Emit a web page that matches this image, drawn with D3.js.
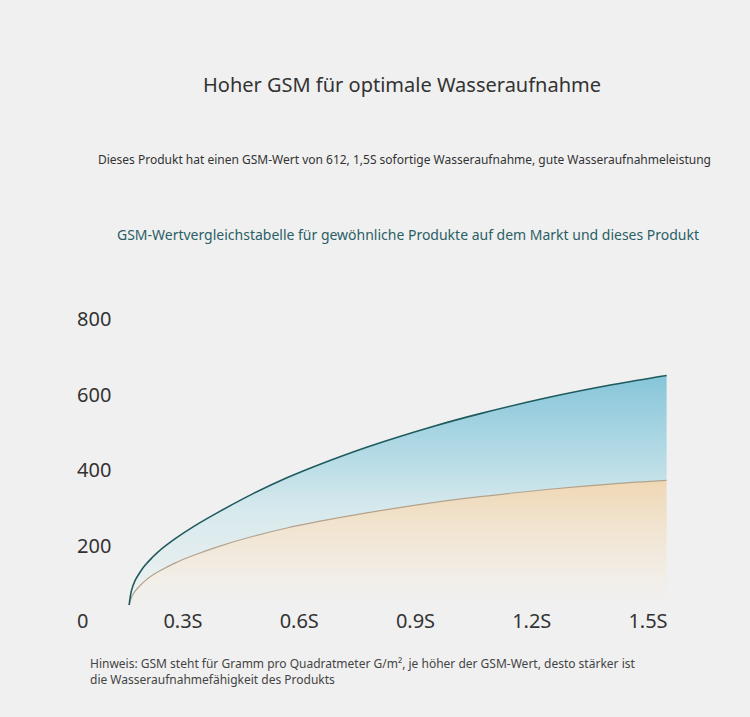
<!DOCTYPE html>
<html><head><meta charset="utf-8">
<script src="https://cdn.jsdelivr.net/npm/d3@7"></script>
<style>
html,body{margin:0;padding:0;background:#f0f0f0;}
svg{display:block;font-family:"Noto Sans",sans-serif;}
</style></head>
<body>
<svg id="chart" width="750" height="717"></svg>
<script>
// ---- data ----
const times   = [0.161, 0.167, 0.176, 0.19, 0.202, 0.22, 0.236, 0.279, 0.326, 0.395, 0.481, 0.568, 0.654, 0.774, 0.945, 1.067, 1.239, 1.41, 1.548];
const product = [0, 38, 64, 88, 105, 125, 141, 175, 207, 248, 295, 337, 373, 418, 473, 507, 549, 584, 608];
const market  = [0, 20, 36, 52, 64, 78, 88, 111, 131, 156, 182, 204, 222, 244, 271, 287, 306, 321, 330];
const yTicks  = [0, 200, 400, 600, 800];
const xTicks  = [0.3, 0.6, 0.9, 1.2, 1.5];
const xTickLabels = ["0.3S", "0.6S", "0.9S", "1.2S", "1.5S"];

const title = "Hoher GSM für optimale Wasseraufnahme";
const subtitle = "Dieses Produkt hat einen GSM-Wert von 612, 1,5S sofortige Wasseraufnahme, gute Wasseraufnahmeleistung";
const chartTitle = "GSM-Wertvergleichstabelle für gewöhnliche Produkte auf dem Markt und dieses Produkt";

const svg = d3.select("#chart");
svg.append("rect").attr("width",750).attr("height",717).attr("fill","#f0f0f0");

const x = d3.scaleLinear().domain([0, 1.5]).range([66.75, 648]);
const y = d3.scaleLinear().domain([0, 800]).range([605, 303]);

const rows = times.map((t,i)=>({t, p: product[i], m: market[i]}));

// gradients
const defs = svg.append("defs");
const gb = defs.append("linearGradient").attr("id","gBlue")
  .attr("gradientUnits","userSpaceOnUse").attr("x1",0).attr("x2",0).attr("y1",y(610)).attr("y2",y(20));
[[0,"#86c5d9"],[0.35,"#b3dae5"],[0.6,"#d6e9ed"],[1,"#eef1f0"]].forEach(([o,c])=>gb.append("stop").attr("offset",o).attr("stop-color",c));
const gs = defs.append("linearGradient").attr("id","gSand")
  .attr("gradientUnits","userSpaceOnUse").attr("x1",0).attr("x2",0).attr("y1",y(335)).attr("y2",y(0));
[[0,"#efd7b3"],[0.45,"#f1e6d5"],[0.8,"#f2eee8"],[1,"#f0f0f0"]].forEach(([o,c])=>gs.append("stop").attr("offset",o).attr("stop-color",c));

const curve = d3.curveCatmullRom.alpha(0.5);

svg.append("path").datum(rows)
  .attr("d", d3.area().x(d=>x(d.t)).y0(d=>y(0)).y1(d=>y(d.m)).curve(curve))
  .attr("fill","url(#gSand)");
svg.append("path").datum(rows)
  .attr("d", d3.area().x(d=>x(d.t)).y0(d=>y(d.m)).y1(d=>y(d.p)).curve(curve))
  .attr("fill","url(#gBlue)");

svg.append("path").datum(rows)
  .attr("d", d3.line().x(d=>x(d.t)).y(d=>y(d.m)).curve(curve))
  .attr("fill","none").attr("stroke","#b3a28c").attr("stroke-width",1.2);
svg.append("path").datum(rows)
  .attr("d", d3.line().x(d=>x(d.t)).y(d=>y(d.p)).curve(curve))
  .attr("fill","none").attr("stroke","#1e5a5e").attr("stroke-width",1.6);

// y labels
svg.append("g").selectAll("text").data(yTicks).join("text")
  .attr("x",77).attr("y",d=>y(d)+16).attr("dy","0.35em")
  .attr("font-size",20).attr("fill","#333").text(d=>d);

// x labels
svg.append("g").selectAll("text").data(xTicks).join("text")
  .attr("x",d=>x(d)).attr("y",y(0)+16).attr("dy","0.35em")
  .attr("text-anchor","middle").attr("font-size",20).attr("fill","#333")
  .text((d,i)=>xTickLabels[i]);

// titles
svg.append("text").attr("x",402).attr("y",85).attr("dy","0.35em").attr("text-anchor","middle")
  .attr("font-size",20).attr("fill","#333").text(title);
svg.append("text").attr("x",98).attr("y",160).attr("dy","0.35em")
  .attr("font-size",12.5).attr("fill","#333")
  .attr("textLength",613).attr("lengthAdjust","spacingAndGlyphs").text(subtitle);
svg.append("text").attr("x",117).attr("y",235).attr("dy","0.35em")
  .attr("font-size",14.5).attr("fill","#2a5f66")
  .attr("textLength",582).attr("lengthAdjust","spacingAndGlyphs").text(chartTitle);

// footnote
const f1 = svg.append("text").attr("x",90).attr("y",664).attr("dy","0.35em")
  .attr("font-size",12).attr("fill","#444");
f1.append("tspan").text("Hinweis: GSM steht für Gramm pro Quadratmeter G/m²,");
f1.append("tspan").text(" je höher der GSM-Wert, desto stärker ist");
svg.append("text").attr("x",90).attr("y",680).attr("dy","0.35em")
  .attr("font-size",12).attr("fill","#444").text("die Wasseraufnahmefähigkeit des Produkts");
</script>
</body></html>
